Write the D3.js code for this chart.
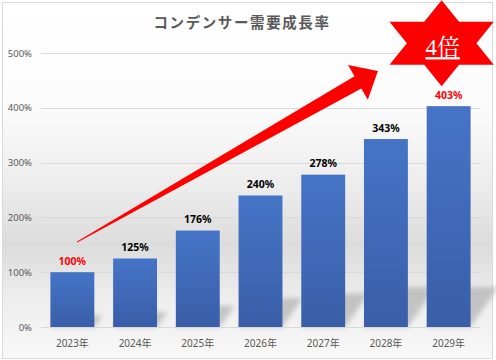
<!DOCTYPE html>
<html><head><meta charset="utf-8">
<script src="https://cdn.jsdelivr.net/npm/d3@7/dist/d3.min.js"></script>
<style>
html,body{margin:0;padding:0;background:#fff;}
svg{display:block;}
</style></head>
<body>
<svg id="chart" width="496" height="360"></svg>
<script>
const title = "コンデンサー需要成長率";
const categories = ["2023年","2024年","2025年","2026年","2027年","2028年","2029年"];
const values = [100,125,176,240,278,343,403];
const highlight = [true,false,false,false,false,false,true];
const yTicks = [0,100,200,300,400,500];
const badgeText = "4倍";
const arrowFrom = {cat:"2023年", value:155};
const arrowTo = {cat:"2028年", value:467};
const badgeAt = {cat:"2029年", value:518};

const svg = d3.select("#chart");
const W = 496, H = 360;
const defs = svg.append("defs");

const bg = defs.append("linearGradient").attr("id","bg").attr("x1",0).attr("y1",0).attr("x2",0).attr("y2",1);
[[0,"#ffffff"],[0.3,"#fbfbfb"],[0.52,"#ececec"],[0.68,"#dcdcdc"],[0.84,"#eeeeee"],[1,"#f8f8f8"]]
  .forEach(([o,c])=>bg.append("stop").attr("offset",o).attr("stop-color",c));
const bgr = defs.append("linearGradient").attr("id","bar").attr("x1",0).attr("y1",0).attr("x2",0).attr("y2",1);
bgr.append("stop").attr("offset",0).attr("stop-color","#4574c7");
bgr.append("stop").attr("offset",1).attr("stop-color","#3a5ea8");
const blur = defs.append("filter").attr("id","blur").attr("x","-50%").attr("y","-50%").attr("width","200%").attr("height","200%");
blur.append("feGaussianBlur").attr("stdDeviation",2.5);

svg.append("rect").attr("x",2.5).attr("y",2.5).attr("width",490).attr("height",356)
  .attr("fill","url(#bg)").attr("stroke","#d9d9d9").attr("stroke-width",1);

const x = d3.scaleBand().domain(categories).range([41,480]).paddingInner(0.3).paddingOuter(0.15);
const y = d3.scaleLinear().domain([0,500]).range([327,53]);

// title
svg.append("text").attr("x",242).attr("y",28).attr("text-anchor","middle")
  .attr("font-family","'Noto Sans CJK JP', sans-serif").attr("font-weight","bold")
  .attr("font-size",14.5).attr("letter-spacing",1.6).attr("fill","#595959").text(title);

// grid + y labels
const yAxis = svg.append("g");
yAxis.selectAll("line").data(yTicks.filter(d=>d>0)).join("line")
  .attr("x1",41).attr("x2",480).attr("y1",d=>Math.round(y(d))+0.5).attr("y2",d=>Math.round(y(d))+0.5)
  .attr("stroke","#d9d9d9").attr("stroke-width",1);
yAxis.selectAll("text").data(yTicks).join("text")
  .attr("x",32).attr("y",d=>y(d)+3.5).attr("text-anchor","end")
  .attr("font-family","'Noto Sans', sans-serif").attr("font-size",9.5).attr("fill","#595959")
  .text(d=>d+"%");

// bar shadows
const bw = x.bandwidth();
svg.append("g").selectAll("path").data(categories).join("path")
  .attr("d",(c,i)=>{
    const x0 = x(c), x1 = x0+bw, yb = y(0), h = yb - y(values[i]);
    const s = Math.min(h*0.22, 40), k = s*0.7;
    return `M${x0},${yb}L${x1},${yb}L${x1+k},${yb-s}L${x0+k},${yb-s}Z`;
  })
  .attr("fill","#b5b5b5").attr("opacity",0.75).attr("filter","url(#blur)");

// bars
svg.append("g").selectAll("rect").data(categories).join("rect")
  .attr("x",c=>x(c)).attr("width",bw)
  .attr("y",(c,i)=>y(values[i])).attr("height",(c,i)=>y(0)-y(values[i]))
  .attr("fill","url(#bar)");

// x axis line
svg.append("line").attr("x1",41).attr("x2",480).attr("y1",y(0)+0.5).attr("y2",y(0)+0.5)
  .attr("stroke","#d9d9d9");

// x labels
svg.append("g").selectAll("text").data(categories).join("text")
  .attr("x",c=>x(c)+bw/2).attr("y",347).attr("text-anchor","middle")
  .attr("font-family","'Noto Sans', 'Noto Sans CJK JP', sans-serif").attr("font-size",10).attr("fill","#595959")
  .text(c=>c);

// value labels
svg.append("g").selectAll("text").data(categories).join("text")
  .attr("x",c=>x(c)+bw/2).attr("y",(c,i)=>y(values[i])-7.5).attr("text-anchor","middle")
  .attr("font-family","'Noto Sans', sans-serif").attr("font-weight","bold").attr("font-size",10.5)
  .attr("fill",(c,i)=>highlight[i]?"#ff0000":"#000000")
  .text((c,i)=>values[i]+"%");

// arrow
const tx = x(arrowFrom.cat)+bw/2+4.6, ty = y(arrowFrom.value);
const px = x(arrowTo.cat)+bw/2-8, py = y(arrowTo.value);
const L = Math.hypot(px-tx, py-ty);
const ang = Math.atan2(py-ty, px-tx)*180/Math.PI;
const hl = 23, hw = 20, sw = 7, tw = 0.5;
svg.append("path")
  .attr("d",`M0,${-tw}L${L-hl},${-sw}L${L-hl},${-hw}L${L},0L${L-hl},${hw}L${L-hl},${sw}L0,${tw}Z`)
  .attr("transform",`translate(${tx},${ty}) rotate(${ang})`)
  .attr("fill","#ff0000");

// star badge
const cx = x(badgeAt.cat)+bw/2-7, cy = y(badgeAt.value);
const R = 43, sx = 1.4;
const pts = d3.range(12).map(k=>{
  const a = (-90 + 30*k)*Math.PI/180;
  const r = k%2===0 ? R : R/Math.sqrt(3);
  return [cx + Math.cos(a)*r*sx, cy + Math.sin(a)*r];
});
svg.append("polygon").attr("points",pts.map(p=>p.join(",")).join(" ")).attr("fill","#ff0000");
svg.append("text").attr("x",cx+1).attr("y",cy+12).attr("text-anchor","middle")
  .attr("font-family","'Liberation Serif', 'Noto Serif CJK JP', serif").attr("font-size",23)
  .attr("fill","#ffffff").attr("text-decoration","underline").text(badgeText);
</script>
</body></html>
